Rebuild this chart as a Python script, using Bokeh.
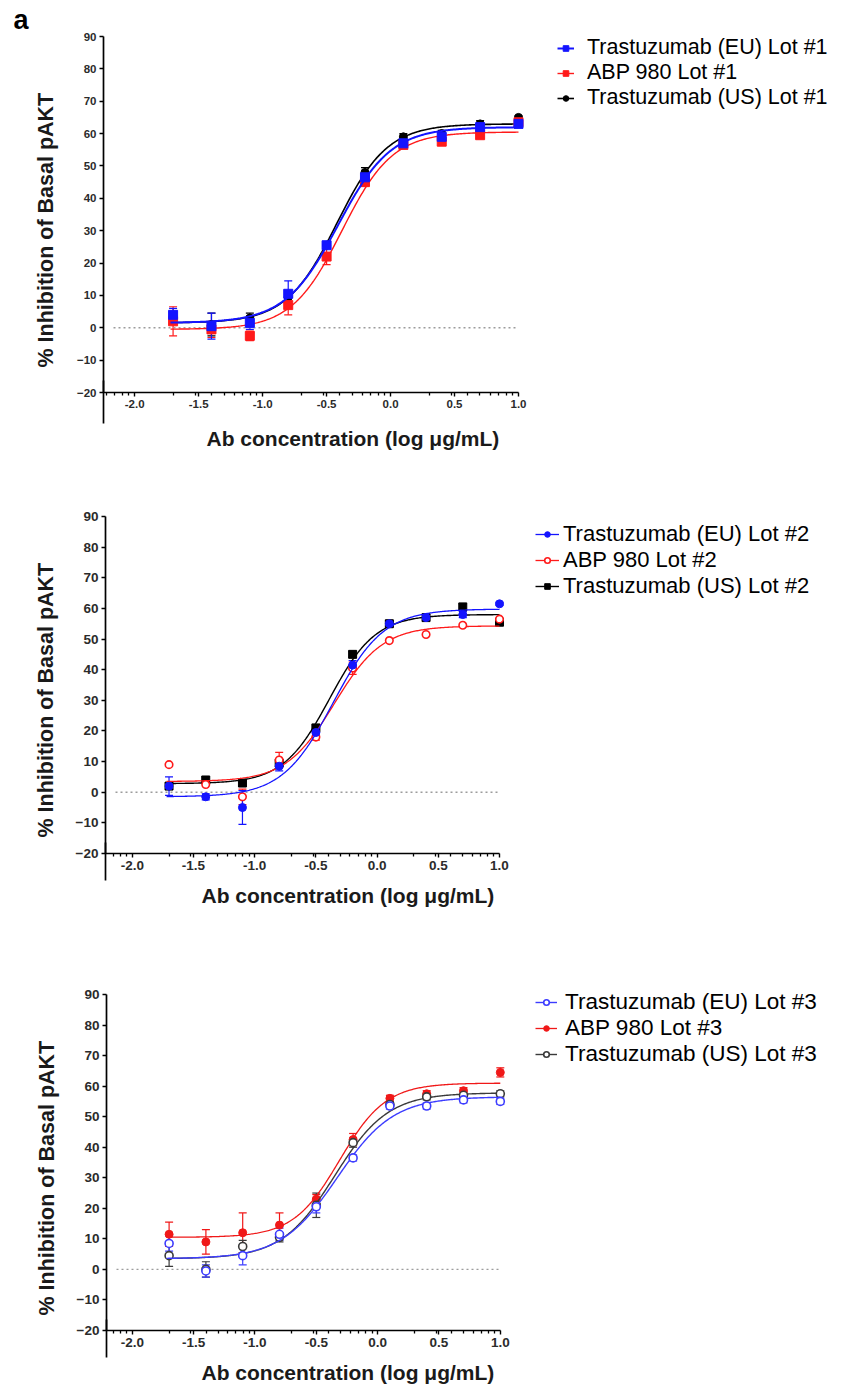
import numpy as np
from bokeh.plotting import figure
from bokeh.models import (ColumnDataSource, Whisker, TeeHead, Legend, LegendItem, LinearAxis,
                          FixedTicker, Range1d, Title)
from bokeh.embed import file_html
from bokeh.resources import INLINE

# ---------------- data ----------------
conc_log = [-1.7, -1.4, -1.1, -0.8, -0.5, -0.2, 0.1, 0.4, 0.7, 1.0]

# panel 1 (Lot #1)
eu1 = [4.0, 0.5, 1.5, 10.5, 25.5, 46.5, 57.0, 59.0, 62.0, 63.0]
eu1_err = [2.0, 4.0, 2.0, 4.0, 1.0, 1.5, 1.5, 1.0, 1.0, 1.0]
abp1 = [2.0, -0.5, -2.5, 7.0, 22.0, 45.0, 56.5, 57.5, 59.5, 63.5]
abp1_err = [4.5, 2.5, 1.5, 3.0, 2.5, 1.0, 1.0, 1.0, 1.0, 1.0]
us1 = [3.5, 1.0, 3.0, 9.5, 25.5, 48.0, 59.0, 60.0, 63.0, 65.0]
us1_err = [1.5, 3.5, 1.5, 2.0, 1.0, 1.5, 1.0, 1.0, 1.0, 0.5]

# panel 2 (Lot #2)
eu2 = [2.0, -1.5, -5.0, 8.5, 19.5, 41.5, 55.0, 57.0, 58.0, 61.5]
eu2_err = [3.0, 1.0, 5.5, 1.5, 1.5, 1.5, 1.0, 1.0, 1.0, 0.5]
abp2 = [9.0, 2.5, -1.5, 10.5, 18.0, 40.5, 49.5, 51.5, 54.5, 56.5]
abp2_err = [0.0, 0.0, 2.5, 2.5, 1.0, 2.0, 0.0, 0.0, 0.0, 0.0]
us2 = [2.0, 4.0, 3.0, 9.5, 21.0, 45.0, 55.0, 57.0, 60.5, 55.5]
us2_err = [1.0, 1.0, 1.0, 1.0, 1.0, 1.0, 1.0, 1.0, 1.0, 1.0]

# panel 3 (Lot #3)
eu3 = [8.5, -0.5, 4.5, 11.5, 20.5, 36.5, 53.5, 53.5, 55.5, 55.0]
eu3_err = [2.5, 2.0, 3.0, 2.0, 2.0, 1.0, 1.0, 1.0, 1.0, 1.0]
abp3 = [11.5, 9.0, 12.0, 14.5, 23.0, 42.5, 56.0, 57.5, 58.5, 64.5]
abp3_err = [4.0, 4.0, 6.5, 4.0, 1.5, 2.0, 1.0, 1.0, 1.0, 1.5]
us3 = [4.5, 0.0, 7.5, 10.5, 21.0, 41.5, 54.0, 56.5, 57.0, 57.5]
us3_err = [3.5, 2.5, 2.0, 1.5, 4.0, 1.5, 1.0, 1.0, 1.0, 1.0]

# four-parameter logistic fits: (bottom, top, logEC50, hill)
fit_eu1 = (1.5, 62.0, -0.41, 2.1)
fit_abp1 = (-0.5, 60.5, -0.38, 2.2)
fit_us1 = (1.5, 63.0, -0.42, 2.2)
fit_eu2 = (-1.5, 59.8, -0.36, 2.1)
fit_abp2 = (3.5, 54.3, -0.35, 2.2)
fit_us2 = (2.8, 58.0, -0.39, 2.3)
fit_eu3 = (3.5, 56.5, -0.33, 1.9)
fit_abp3 = (10.5, 61.0, -0.31, 2.3)
fit_us3 = (3.5, 57.8, -0.35, 2.0)
fit_range = (-1.72, 1.0)

labels1 = ["Trastuzumab (EU) Lot #1", "ABP 980 Lot #1", "Trastuzumab (US) Lot #1"]
labels2 = ["Trastuzumab (EU) Lot #2", "ABP 980 Lot #2", "Trastuzumab (US) Lot #2"]
labels3 = ["Trastuzumab (EU) Lot #3", "ABP 980 Lot #3", "Trastuzumab (US) Lot #3"]

y_ticks = [-20, -10, 0, 10, 20, 30, 40, 50, 60, 70, 80, 90]
x_ticks = [-2.0, -1.5, -1.0, -0.5, 0.0, 0.5, 1.0]
x_tick_labels = ["-2.0", "-1.5", "-1.0", "-0.5", "0.0", "0.5", "1.0"]
x_title = "Ab concentration (log \u03bcg/mL)"
y_title = "% Inhibition of Basal pAKT"

TICK_FONT = "'Liberation Sans', Arial, sans-serif"
TITLE_FONT = "'Liberation Sans', Arial, sans-serif"
LEG_FONT = "'Liberation Sans', Arial, sans-serif"

BLUE = "#1414ff"
RED = "#ff1a1a"
BLACK = "#000000"
W = 843


def logistic(params, xs):
    b, t, ec, h = params
    return b + (t - b) / (1.0 + 10.0 ** ((ec - xs) * h))


def log_minor_ticks(lo, hi):
    out = []
    for dec in range(-4, 2):
        for k in range(2, 10):
            v = dec + np.log10(k)
            if lo < v < hi:
                out.append(float(v))
    return out


def make_panel(series, labels, geo, panel_label=None):
    axis_x, xm2, xp1, y90, ym20, top_page, bottom_page = geo["frame"]
    pad = geo["pad_top"]
    ppx = (xp1 - xm2) / 3.0
    left = int(round(axis_x))
    right = 2
    x_start = -2.0 - (xm2 - left) / ppx
    frame_w = W - left - right
    x_end = x_start + frame_w / ppx          # frame reaches the legend area on the right
    top = int(round(y90 - top_page)) - pad
    bottom = int(round(bottom_page - ym20))
    H = int(bottom_page - top_page)
    frame_h = H - top - bottom
    ppy = (frame_h - pad) / 110.0
    y_end = 90 + pad / ppy
    p = figure(width=W, height=H, output_backend="svg", toolbar_location=None,
               x_range=Range1d(x_start, x_end), y_range=Range1d(-20, y_end),
               min_border_left=left, min_border_right=right,
               min_border_top=top, min_border_bottom=bottom)
    p.outline_line_color = None
    p.xgrid.visible = False
    p.ygrid.visible = False

    # axes
    xa = p.xaxis[0]
    xa.ticker = FixedTicker(ticks=x_ticks, minor_ticks=log_minor_ticks(x_start, 1.0))
    xa.major_label_overrides = dict(zip(x_ticks, x_tick_labels))
    xa.bounds = (x_start, 1.0)
    ya = p.yaxis[0]
    ya.ticker = FixedTicker(ticks=y_ticks)
    ya.bounds = (-20, 90)
    for ax in (xa, ya):
        ax.axis_line_color = "black"
        ax.axis_line_width = 1.7
        ax.major_tick_line_color = "black"
        ax.major_tick_line_width = 1.4
        ax.major_tick_in = 0
        ax.major_tick_out = 4
        ax.minor_tick_in = 0
        ax.minor_tick_out = 3
        ax.minor_tick_line_color = "black"
        ax.minor_tick_line_width = 1.3
        ax.major_label_text_font = TICK_FONT
        ax.major_label_text_font_style = "bold"
        ax.major_label_text_font_size = geo["tick_size"]
        ax.major_label_text_color = "#2b2b2b"
        ax.major_label_standoff = 3
    ya.minor_tick_line_color = None

    # the y-axis line continues below the x axis: a single long tick of an extra axis
    ext = LinearAxis(ticker=FixedTicker(ticks=[x_start]), axis_line_color=None,
                     major_label_text_font_size="0px", major_label_text_color=None,
                     minor_tick_line_color=None,
                     major_tick_line_color="black", major_tick_line_width=1.7,
                     major_tick_in=30, major_tick_out=geo["ext_out"])
    p.add_layout(ext, "below")

    # axis titles
    p.add_layout(Title(text=x_title, align="left", offset=geo["xtitle_left"] - left,
                       standoff=geo["xtitle_standoff"], text_font=TITLE_FONT,
                       text_font_style="bold", text_font_size=geo["xtitle_size"],
                       text_color="#1a1a1a"), "below")
    p.add_layout(Title(text=y_title, align="left", offset=geo["ytitle_offset"],
                       standoff=geo["ytitle_standoff"], text_font=TITLE_FONT,
                       text_font_style="bold", text_font_size="21.5px",
                       text_color="#1a1a1a"), "left")

    # dotted zero reference line, spanning the data axis
    p.segment(x0=[x_start + 10.0 / ppx], y0=[0], x1=[1.0], y1=[0], line_color="#9c9c9c",
              line_width=1.3, line_dash="2 3")

    xs = np.linspace(fit_range[0], fit_range[1], 300)
    items = {}
    for s in series:
        vals, errs, fit, color = s["vals"], s["err"], s["fit"], s["color"]
        line_r = p.line(xs, logistic(fit, xs), line_color=color, line_width=s["lw"])
        ex = [x for x, e in zip(conc_log, errs) if e > 0]
        ey = [v for v, e in zip(vals, errs) if e > 0]
        ee = [e for e in errs if e > 0]
        src = ColumnDataSource(dict(x=ex, upper=[a + b for a, b in zip(ey, ee)],
                                    lower=[a - b for a, b in zip(ey, ee)]))
        p.add_layout(Whisker(base="x", upper="upper", lower="lower", source=src,
                             line_color=color, line_width=1.2,
                             upper_head=TeeHead(size=8, line_color=color, line_width=1.2),
                             lower_head=TeeHead(size=8, line_color=color, line_width=1.2)))
        sc = p.scatter(conc_log, vals, marker=s["marker"], size=s["size"],
                       fill_color=color if s["filled"] else "white", line_color=color,
                       line_width=1.0 if s["filled"] else 1.6)
        items[s["key"]] = (line_r, sc)

    leg_items = [LegendItem(label=lab, renderers=list(items[k]))
                 for lab, k in zip(labels, ["eu", "abp", "us"])]
    gx, row1, gw, stand, fsize = geo["legend"]
    text_h = fsize * 1.117
    leg_bottom = row1 - text_h / 2 + 3 * text_h
    legend = Legend(items=leg_items, location=(gx - left, ym20 - leg_bottom),
                    glyph_width=gw, glyph_height=14, label_standoff=stand, label_height=20,
                    spacing=0, padding=0, margin=0,
                    border_line_color=None, background_fill_alpha=0,
                    label_text_font=LEG_FONT, label_text_font_size=f"{fsize}px",
                    label_text_color="black")
    p.add_layout(legend)

    if panel_label:
        p.title.text = panel_label
        p.title.align = "left"
        p.title.offset = 13 - left
        p.title.standoff = 3
        p.title.text_font = TITLE_FONT
        p.title.text_font_style = "bold"
        p.title.text_font_size = "27px"
        p.title.text_color = "black"
    return p


s1 = [
    dict(key="us", vals=us1, err=us1_err, fit=fit_us1, color=BLACK, marker="circle", filled=True, size=8, lw=1.6),
    dict(key="abp", vals=abp1, err=abp1_err, fit=fit_abp1, color=RED, marker="square", filled=True, size=9, lw=1.4),
    dict(key="eu", vals=eu1, err=eu1_err, fit=fit_eu1, color=BLUE, marker="square", filled=True, size=9, lw=2.0),
]
s2 = [
    dict(key="us", vals=us2, err=us2_err, fit=fit_us2, color=BLACK, marker="square", filled=True, size=8, lw=1.4),
    dict(key="abp", vals=abp2, err=abp2_err, fit=fit_abp2, color=RED, marker="circle", filled=False, size=7.5, lw=1.3),
    dict(key="eu", vals=eu2, err=eu2_err, fit=fit_eu2, color=BLUE, marker="circle", filled=True, size=8, lw=1.3),
]
s3 = [
    dict(key="abp", vals=abp3, err=abp3_err, fit=fit_abp3, color="#f01818", marker="circle", filled=True, size=8, lw=1.3),
    dict(key="us", vals=us3, err=us3_err, fit=fit_us3, color="#3a3a3a", marker="circle", filled=False, size=8, lw=1.4),
    dict(key="eu", vals=eu3, err=eu3_err, fit=fit_eu3, color="#3c3cff", marker="circle", filled=False, size=8, lw=1.4),
]

geo1 = dict(frame=(103.3, 134.2, 518.0, 36.0, 391.7, 0, 462), pad_top=0, tick_size="11.5px", ext_out=13,
            xtitle_left=206, xtitle_standoff=2, xtitle_size="21px",
            ytitle_offset=25, ytitle_standoff=31, legend=(557, 50, 17, 13, 21.5))
geo2 = dict(frame=(105.0, 131.8, 499.0, 515.7, 852.7, 462, 930), pad_top=0, tick_size="13.5px", ext_out=8,
            xtitle_left=201, xtitle_standoff=2, xtitle_size="21px",
            ytitle_offset=16, ytitle_standoff=30, legend=(535, 537, 24, 4, 22))
geo3 = dict(frame=(105.7, 131.8, 499.8, 993.7, 1330.0, 930, 1389), pad_top=10, tick_size="13.5px", ext_out=8,
            xtitle_left=201, xtitle_standoff=2, xtitle_size="21px",
            ytitle_offset=15, ytitle_standoff=30, legend=(535, 1004, 22, 8, 22.5))

p1 = make_panel(s1, labels1, geo1, panel_label="a")
p2 = make_panel(s2, labels2, geo2)
p3 = make_panel(s3, labels3, geo3)

open("out.html", "w").write(file_html([p1, p2, p3], INLINE))
